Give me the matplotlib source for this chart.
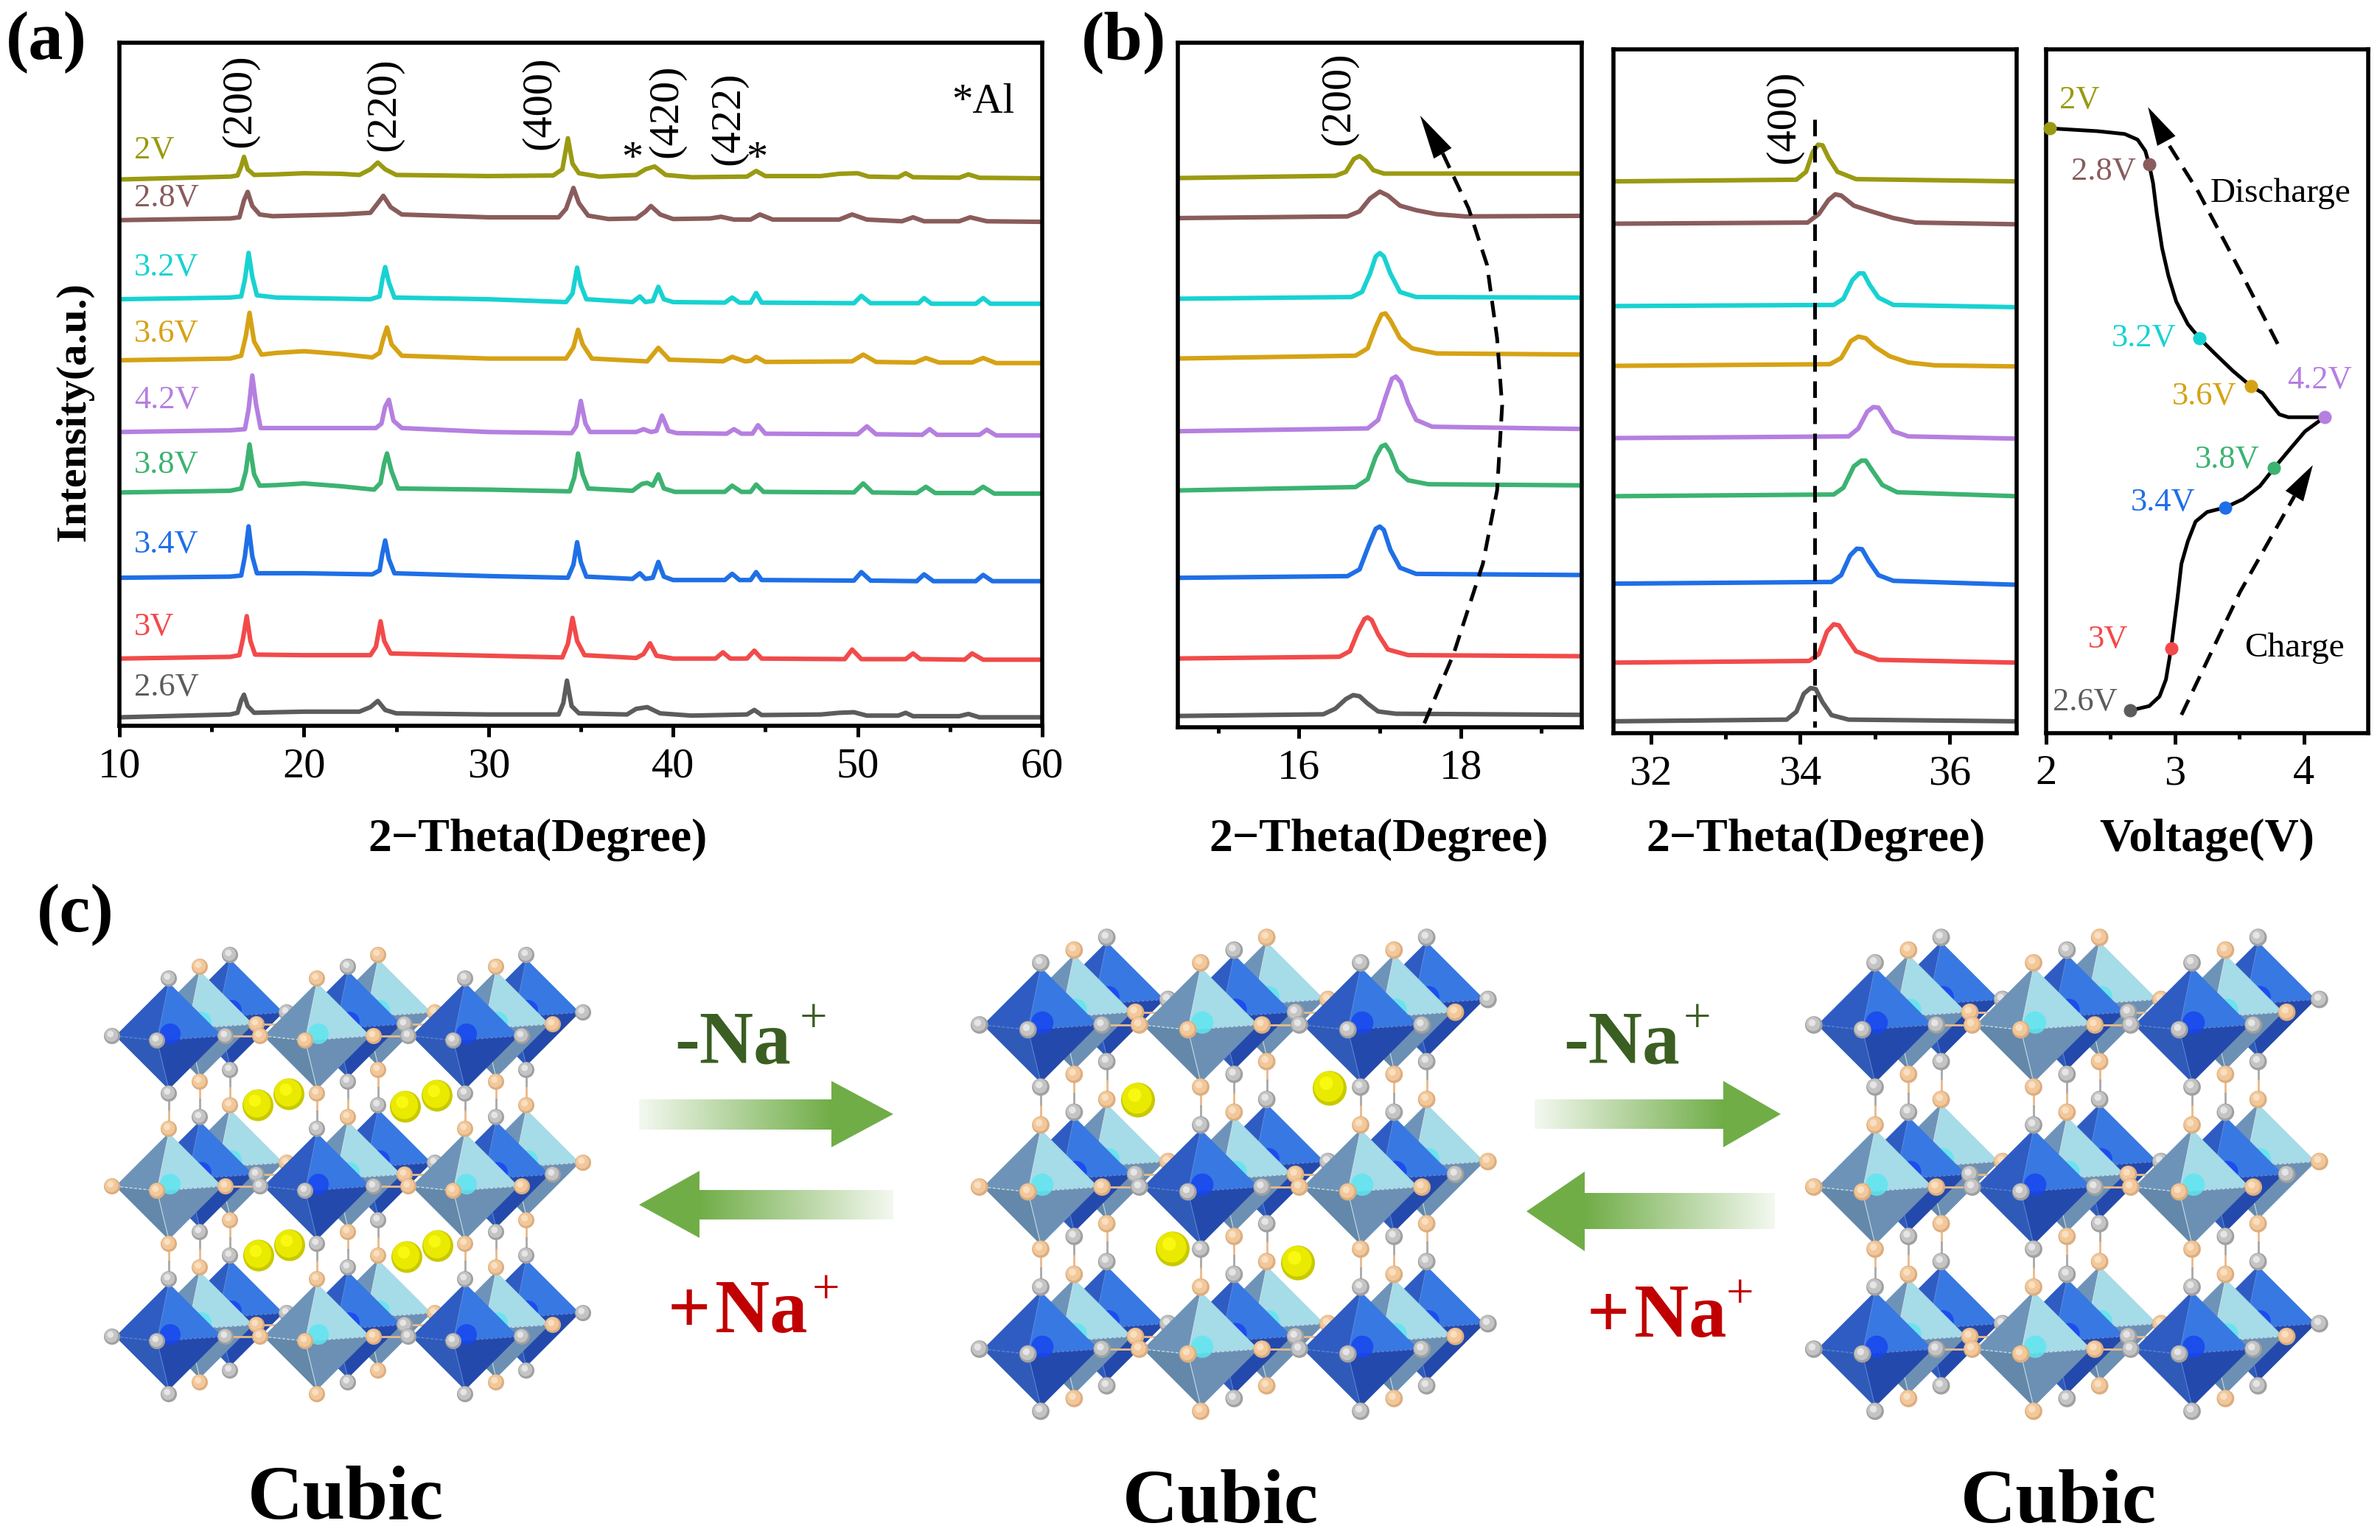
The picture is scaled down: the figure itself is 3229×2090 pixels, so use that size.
import numpy as np
import matplotlib
matplotlib.use("Agg")
import matplotlib.pyplot as plt
from matplotlib.patches import Polygon, Circle, Ellipse
from matplotlib.ticker import FixedLocator

plt.rcParams['font.family'] = ['Liberation Serif', 'DejaVu Serif']
W, H = 3230, 2090

NAMES = ['2V', '2.8V', '3.2V', '3.6V', '4.2V', '3.8V', '3.4V', '3V', '2.6V']
COLORS = ['#9a9a12', '#8a5c5c', '#18d2d2', '#d6a215', '#b57fe0', '#3cb371', '#1f6fe6', '#f24a4a', '#5c5c5c']

# Panel (a): (2-theta, intensity a.u.)
XRD_2V = [(10,967),(16,972),(16.4,974),(16.6,990),(16.75,1007),(16.95,985),(17.3,975),(18.5,976),(20,978),(22,977),(23,975),(23.6,985),(24.0,997),(24.4,985),(25,975),(30,973),(33.5,974),(34.0,985),(34.3,1040),(34.55,995),(34.9,978),(36,972),(38,975),(38.5,985),(39,990),(39.6,975),(41,971),(44,972),(44.5,982),(45,973),(48,973),(49,977),(50,978),(50.6,972),(52.2,971),(52.6,978),(53,971),(55.5,970),(56,976),(56.6,970),(60,969)]
XRD_28V = [(10,895),(16,898),(16.5,900),(16.75,930),(16.95,945),(17.2,920),(17.6,905),(18.3,902),(22,905),(23.6,908),(24.0,925),(24.3,938),(24.7,918),(25.3,905),(30,900),(33.8,900),(34.2,915),(34.6,952),(34.9,925),(35.4,903),(36.5,897),(38,898),(38.5,910),(38.8,920),(39.3,905),(40,897),(42,898),(42.6,901),(43.3,896),(44.2,896),(44.7,905),(45.4,896),(49,896),(49.7,905),(50.5,896),(52.4,893),(53,900),(53.6,893),(55.5,893),(56.1,900),(57,893),(60,892)]
XRD_32V = [(10,755),(16,758),(16.6,760),(16.8,790),(17,837),(17.2,795),(17.45,762),(18.5,758),(23.6,755),(24.1,760),(24.25,790),(24.4,812),(24.6,785),(24.9,758),(30,755),(34.2,750),(34.55,765),(34.8,811),(35,780),(35.3,755),(37.8,750),(38.2,760),(38.5,750),(38.9,752),(39.2,777),(39.5,755),(40,750),(42.8,749),(43.2,758),(43.6,749),(44.2,749),(44.5,766),(44.8,749),(49.8,748),(50.2,761),(50.7,748),(53.3,748),(53.6,757),(54,747),(56.4,747),(56.8,757),(57.2,747),(60,747)]
XRD_36V = [(10,647),(16,650),(16.6,655),(16.85,690),(17.05,731),(17.3,680),(17.7,657),(18.5,660),(20,663),(22,658),(23.7,652),(24.1,660),(24.3,685),(24.5,705),(24.75,675),(25.3,655),(30,650),(34.2,650),(34.6,670),(34.85,701),(35.1,675),(35.6,650),(38.6,645),(39.2,669),(39.8,648),(42.7,645),(43.2,653),(43.9,645),(44.2,646),(44.5,653),(45,644),(49.7,645),(50.3,657),(51,644),(53.1,643),(53.7,651),(54.4,643),(56.2,643),(56.8,651),(57.5,642),(60,642)]
XRD_42V = [(10,520),(16,523),(16.8,525),(17,560),(17.2,620),(17.4,570),(17.65,527),(19,527),(23.9,527),(24.2,535),(24.4,565),(24.6,577),(24.85,540),(25.3,527),(30,520),(34.5,518),(34.75,530),(35,575),(35.25,535),(35.5,520),(38,520),(38.4,525),(38.8,520),(39.1,522),(39.4,549),(39.75,522),(40.2,518),(42.9,517),(43.3,525),(43.7,517),(44.3,517),(44.6,532),(45,517),(50,516),(50.5,530),(51,516),(53.5,515),(53.9,525),(54.3,515),(56.6,515),(57,524),(57.5,514),(60,514)]
XRD_38V = [(10,413),(16,416),(16.6,420),(16.85,450),(17.05,498),(17.3,445),(17.6,425),(18.5,426),(20,429),(22,424),(23.8,418),(24.15,430),(24.35,465),(24.5,482),(24.75,450),(25.1,420),(30,418),(34.4,415),(34.65,440),(34.85,482),(35.1,445),(35.4,420),(37.8,416),(38.3,428),(38.6,430),(38.9,425),(39.2,445),(39.5,420),(40.1,414),(42.8,414),(43.2,425),(43.7,414),(44.2,414),(44.5,427),(44.9,414),(49.8,413),(50.3,429),(50.8,413),(53.2,412),(53.7,423),(54.2,412),(56.3,412),(56.8,423),(57.4,411),(60,411)]
XRD_34V = [(10,262),(16,264),(16.6,266),(16.8,300),(17,353),(17.2,300),(17.45,270),(20,270),(23.7,268),(24.1,275),(24.25,305),(24.4,328),(24.6,295),(24.9,270),(30,265),(34.3,262),(34.6,285),(34.8,325),(35,290),(35.3,264),(37.8,260),(38.2,270),(38.5,260),(38.9,262),(39.2,290),(39.5,264),(40,258),(42.8,258),(43.2,269),(43.6,258),(44.2,258),(44.5,272),(44.8,258),(49.8,257),(50.2,272),(50.7,257),(53.2,256),(53.6,268),(54.1,256),(56.4,256),(56.8,267),(57.3,256),(60,256)]
XRD_3V = [(10,119),(16,122),(16.5,125),(16.7,155),(16.9,194),(17.1,150),(17.35,126),(20,125),(23.6,125),(23.9,140),(24.15,185),(24.35,150),(24.7,128),(30,124),(34,121),(34.3,145),(34.55,191),(34.8,150),(35.2,125),(38,120),(38.4,127),(38.75,146),(39.1,124),(40,119),(42.3,119),(42.7,130),(43.1,119),(44,119),(44.4,133),(44.8,119),(49.3,118),(49.7,135),(50.2,118),(52.6,118),(53,128),(53.4,118),(55.8,117),(56.2,128),(56.8,117),(60,117)]
XRD_26V = [(10,15),(16,20),(16.4,23),(16.6,45),(16.75,55),(16.95,35),(17.3,23),(18.5,24),(20,25),(22,25),(23,25),(23.6,33),(24,44),(24.4,28),(25,22),(30,20),(33.8,20),(34.05,40),(34.25,80),(34.5,35),(34.9,22),(37.5,20),(38,30),(38.6,33),(39.3,22),(41,18),(44,20),(44.4,28),(44.8,19),(48,20),(49,23),(49.8,24),(50.5,18),(52.2,18),(52.6,23),(53,17),(55.5,17),(56,21),(56.6,15),(60,15)]
XRD_ALL = [XRD_2V, XRD_28V, XRD_32V, XRD_36V, XRD_42V, XRD_38V, XRD_34V, XRD_3V, XRD_26V]

# Panel (b) left: (200) region
P200_2V = [(14.5,974),(16.45,978),(16.58,985),(16.68,1008),(16.75,1013),(16.82,1006),(16.92,988),(17.05,982),(19.5,982)]
P200_28V = [(14.5,903),(16.6,906),(16.75,915),(16.88,938),(17,950),(17.1,943),(17.25,925),(17.45,917),(17.7,910),(18.05,906),(19.5,907)]
P200_32V = [(14.5,760),(16.65,763),(16.78,772),(16.88,805),(16.95,835),(17,841),(17.05,835),(17.13,805),(17.25,772),(17.45,763),(19.5,762)]
P200_36V = [(14.5,654),(16.7,659),(16.85,672),(16.95,710),(17.02,732),(17.07,734),(17.13,722),(17.25,690),(17.4,672),(17.7,663),(19.5,661)]
P200_42V = [(14.5,525),(16.85,530),(16.98,545),(17.07,585),(17.15,618),(17.2,622),(17.26,612),(17.35,575),(17.45,545),(17.65,533),(19.5,529)]
P200_38V = [(14.5,420),(16.7,426),(16.85,440),(16.95,480),(17.02,498),(17.07,501),(17.13,488),(17.22,455),(17.35,438),(17.6,431),(19.5,429)]
P200_34V = [(14.5,265),(16.6,268),(16.75,280),(16.87,325),(16.95,352),(17,356),(17.05,350),(17.13,315),(17.25,283),(17.45,272),(19.5,270)]
P200_3V = [(14.5,122),(16.5,125),(16.63,135),(16.73,170),(16.81,192),(16.85,195),(16.9,190),(16.98,165),(17.1,138),(17.35,128),(19.5,126)]
P200_26V = [(14.5,20),(16.3,23),(16.45,33),(16.58,50),(16.67,57),(16.75,55),(16.85,42),(16.98,28),(17.2,24),(19.5,22)]
P200_ALL = [P200_2V, P200_28V, P200_32V, P200_36V, P200_42V, P200_38V, P200_34V, P200_3V, P200_26V]

# Panel (b) middle: (400) region
P400_2V = [(31.5,978),(33.95,981),(34.08,995),(34.17,1030),(34.24,1043),(34.3,1042),(34.38,1020),(34.5,995),(34.75,982),(36.9,978)]
P400_28V = [(31.5,903),(34.1,905),(34.25,920),(34.38,945),(34.47,955),(34.55,953),(34.72,935),(34.95,925),(35.25,913),(35.55,905),(36.9,902)]
P400_32V = [(31.5,757),(34.45,759),(34.58,770),(34.7,803),(34.79,815),(34.85,815),(34.93,795),(35.05,772),(35.25,759),(36.9,755)]
P400_36V = [(31.5,651),(34.4,654),(34.55,665),(34.68,695),(34.78,703),(34.88,700),(35,685),(35.2,668),(35.45,657),(35.8,652),(36.9,650)]
P400_42V = [(31.5,523),(34.65,526),(34.78,540),(34.9,570),(34.98,578),(35.05,577),(35.13,560),(35.25,535),(35.45,526),(36.9,522)]
P400_38V = [(31.5,420),(34.45,423),(34.58,435),(34.72,473),(34.82,483),(34.88,483),(34.97,465),(35.1,440),(35.3,427),(36.9,420)]
P400_34V = [(31.5,265),(34.42,268),(34.55,280),(34.67,315),(34.76,327),(34.83,326),(34.92,305),(35.05,280),(35.25,270),(36.9,263)]
P400_3V = [(31.5,125),(34.12,128),(34.25,140),(34.36,180),(34.45,193),(34.52,191),(34.62,170),(34.75,145),(35.05,130),(36.9,125)]
P400_26V = [(31.5,21),(33.82,24),(33.95,38),(34.05,70),(34.14,80),(34.21,78),(34.3,55),(34.42,32),(34.65,24),(36.9,21)]
P400_ALL = [P400_2V, P400_28V, P400_32V, P400_36V, P400_42V, P400_38V, P400_34V, P400_3V, P400_26V]

# Panel (b) right: voltage curve
CURVE_V = [2.03,2.40,2.61,2.71,2.77,2.80,2.83,2.86,2.90,2.95,3.01,3.10,3.19,3.30,3.45,3.59,3.68,3.74,3.81,3.88,4.16,4.01,3.88,3.77,3.66,3.53,3.39,3.25,3.16,3.10,3.05,3.02,2.97,2.93,2.88,2.80,2.65]
CURVE_Y = [1072,1067,1062,1052,1032,1008,975,920,860,810,765,725,700,675,642,615,603,585,565,560,560,535,500,470,438,415,400,392,375,340,300,240,150,95,65,48,40]
DOT_V = [2.03,2.80,3.19,3.59,4.16,3.77,3.39,2.97,2.65]
DOT_Y = [1072,1008,700,615,560,470,400,150,40]

fig = plt.figure(figsize=(W/200, H/200), dpi=200, facecolor='white')

def axes_px(l, r, t, b):
    return fig.add_axes([l/W, 1-b/H, (r-l)/W, (b-t)/H])

def style(ax, xlim, ylim, major, minor):
    ax.set_xlim(*xlim); ax.set_ylim(*ylim)
    ax.set_yticks([])
    ax.xaxis.set_major_locator(FixedLocator(major))
    ax.xaxis.set_minor_locator(FixedLocator(minor))
    ax.tick_params(axis='x', which='major', length=5.5, width=1.8, labelsize=21, pad=5)
    ax.tick_params(axis='x', which='minor', length=3, width=1.8)
    for s in ax.spines.values():
        s.set_linewidth(2.0)

ax_a = axes_px(162, 1414, 58, 985)
style(ax_a, (10, 60), (0, 1209), [10,20,30,40,50,60], [15,25,35,45,55])
ax_b1 = axes_px(1598, 2146, 58, 987)
style(ax_b1, (14.5, 19.5), (0, 1214), [16,18], [15,17,19])
ax_b2 = axes_px(2189, 2736, 67, 995)
style(ax_b2, (31.5, 36.9), (0, 1212), [32,34,36], [33,35])
ax_b3 = axes_px(2776, 3213, 67, 995)
style(ax_b3, (2, 4.5), (0, 1212), [2,3,4], [2.5,3.5])

for ax, group in [(ax_a, XRD_ALL), (ax_b1, P200_ALL), (ax_b2, P400_ALL)]:
    for trace, c in zip(group, COLORS):
        xs, ys = zip(*trace)
        ax.plot(xs, ys, color=c, lw=2.2, solid_joinstyle='round')

ax_b3.plot(CURVE_V, CURVE_Y, color='black', lw=1.8, solid_joinstyle='round')
for v, y, c in zip(DOT_V, DOT_Y, COLORS):
    ax_b3.plot([v], [y], 'o', color=c, ms=6.5, mec='none', clip_on=False, zorder=5)

# overlay in pixel coordinates for annotations and the structure panel
ov = fig.add_axes([0, 0, 1, 1], facecolor='none')
ov.set_xlim(0, W); ov.set_ylim(H, 0); ov.axis('off')

def Z1(X, Y): return X/1.045, Y/1.307
def Z2(X, Y): return 1450+X/0.881, Y/1.307

def txt(p, s, size=16, color='black', weight='normal', rot=0, ha='center', va='center'):
    ov.text(p[0], p[1], s, fontsize=size, color=color, fontweight=weight, rotation=rot, ha=ha, va=va)

# panel letters
txt((8, 80), '(a)', 34, weight='bold', ha='left', va='baseline')
txt((1467, 80), '(b)', 34, weight='bold', ha='left', va='baseline')
txt((50, 1264), '(c)', 34, weight='bold', ha='left', va='baseline')

# axis titles
txt(Z1(105, 730), 'Intensity(a.u.)', 21, weight='bold', rot=90)
txt((730, 1140), '2\u2212Theta(Degree)', 23, weight='bold')
txt((1871, 1140), '2\u2212Theta(Degree)', 23, weight='bold')
txt((2464, 1140), '2\u2212Theta(Degree)', 23, weight='bold')
txt((2994, 1140), 'Voltage(V)', 23, weight='bold')

# panel (a) labels
LAB_A_Y = [267, 352, 475, 592, 710, 825, 966, 1112, 1220]
for n, c, y in zip(NAMES, COLORS, LAB_A_Y):
    txt(Z1(190, y), n, 16, color=c, ha='left')
for s, X, Y in [('(200)',340,178),('(220)',545,185),('(400)',765,182),('(420)',945,197),('(422)',1033,210)]:
    txt(Z1(X, Y), s, 21, rot=90)
txt(Z1(896, 283), '*', 21)
txt(Z1(1073, 283), '*', 21)
txt(Z1(1394, 182), '*Al', 20.5)

# panel (b) labels
txt(Z2(323, 175), '(200)', 21, rot=90)
txt(Z2(855, 208), '(400)', 21, rot=90)
LAB_B = [(1208,178),(1237,305),(1285,600),(1357,703),(1495,675),(1385,815),(1308,892),(1242,1135),(1215,1245)]
for n, c, (X, Y) in zip(NAMES, COLORS, LAB_B):
    txt(Z2(X, Y), n, 16, color=c)
txt(Z2(1448, 343), 'Discharge', 17)
txt(Z2(1465, 1150), 'Charge', 17)

def dashed_arrow(pts, tip, hw=14):
    P = np.array([Z2(*p) for p in pts])
    ov.plot(P[:,0], P[:,1], color='black', lw=1.8, dashes=(4.5, 2.6), dash_capstyle='butt')
    t = np.array(Z2(*tip)); b = P[-1]
    d = t-b; d = d/np.linalg.norm(d); n = np.array([-d[1], d[0]])
    ov.add_patch(Polygon([t, b+n*hw, b+n*-hw], closed=True, fc='black', ec='none', zorder=3))

dashed_arrow([(425,1283),(460,1160),(495,1000),(512,870),(518,720),(512,600),(500,470),(478,370),(447,272)], (420,205))
dashed_arrow([(1445,610),(1400,480),(1350,340),(1312,250)], (1290,190))
dashed_arrow([(1330,1268),(1400,1050),(1465,880)], (1487,825))
P = np.array([Z2(892,212), Z2(892,1290)])
ov.plot(P[:,0], P[:,1], color='black', lw=1.8, dashes=(4.5, 2.6))

# ------- panel (c) -------
DARK = dict(ul='#2f5cc2', ur='#3878e2', ll='#2f5ab8', lr='#2449ac', core='#1746f0', edge='#5b86d8')
LIGHT = dict(ul='#6d94b8', ur='#a6dbe8', ll='#6488aa', lr='#6c90b4', core='#5fe6f0', edge='#c6dbe6')
GREY = ('#a0a0a0', '#c4c4c4', '#eeeeee')
TAN = ('#dcae80', '#f2c89a', '#fbe6cc')

def atom(x, y, pal, r=11):
    ov.add_patch(Circle((x, y), r, fc=pal[0], ec='none'))
    ov.add_patch(Circle((x-0.08*r, y-0.1*r), 0.82*r, fc=pal[1], ec='none'))
    ov.add_patch(Circle((x-0.2*r, y-0.25*r), 0.4*r, fc=pal[2], ec='none', alpha=0.8))

def octa(cx, cy, kind, s):
    pal = DARK if kind == 0 else LIGHT
    ap = GREY if kind == 0 else TAN
    w, h = 72*s, 72*s
    T, B = (cx, cy-h), (cx, cy+h)
    L, R = (cx-w, cy), (cx+w, cy)
    F = (cx-16*s, cy+6*s)
    for a, b, c, col in [(T,L,F,pal['ul']), (T,F,R,pal['ur']), (L,F,B,pal['ll']), (F,R,B,pal['lr'])]:
        ov.add_patch(Polygon([a,b,c], closed=True, fc=col, ec=col, lw=0.3))
    ov.plot([L[0],F[0],R[0]], [L[1],F[1],R[1]], color=pal['edge'], lw=0.5, dashes=(3,1.5), zorder=1)
    ov.plot([T[0],F[0],B[0]], [T[1],F[1],B[1]], color=pal['edge'], lw=0.4, zorder=1)
    ov.add_patch(Circle((cx+2*s, cy-3*s), 14*s, fc=pal['core'], ec='none', alpha=0.85))
    for ax_, ay in [(0,-78),(0,78),(-77,0),(77,0),(-16,6)]:
        atom(cx+ax_*s, cy+ay*s, ap, 11*s)

DEPTH_OFFSET = [(83,-32), (42,-16), (0,0)]
def structure(x0, y0, dx, dy, s):
    for (ox, oy), depth in zip(DEPTH_OFFSET, [2,1,0]):
        for col in range(3):
            for row in range(2):
                kind = (row+col+depth) % 2
                x = x0+col*dx+ox*s
                y1 = y0+row*dy+oy*s+78*s
                y2 = y0+(row+1)*dy+oy*s-78*s
                m = (y1+y2)/2
                ov.plot([x,x],[y1,m], color='#a8a8a8' if kind==0 else '#e8b98a', lw=1.0, zorder=1)
                ov.plot([x,x],[m,y2], color='#e8b98a' if kind==0 else '#a8a8a8', lw=1.0, zorder=1)
    for (ox, oy), depth in zip(DEPTH_OFFSET, [2,1,0]):
        for row in range(3):
            for col in range(3):
                cx = x0+col*dx+ox*s
                cy = y0+row*dy+oy*s
                if col < 2:
                    ov.plot([cx+77*s, cx+dx-77*s],[cy,cy], color='#e8b98a', lw=1.0, zorder=1)
                octa(cx, cy, (row+col+depth) % 2, s)

def sodium(x, y, r):
    ov.add_patch(Ellipse((x, y), 2*r, 2.05*r, fc='#c9c900', ec='none'))
    ov.add_patch(Ellipse((x-0.06*r, y-0.1*r), 1.75*r, 1.8*r, fc='#eaea00', ec='none'))
    ov.add_patch(Ellipse((x-0.2*r, y-0.3*r), 0.8*r, 0.8*r, fc='#f8f810', ec='none'))

STRUCT = [(229, 1406, 201, 204, 1.0), (1412, 1391, 217, 220, 1.08), (2544, 1391, 215, 220, 1.08)]
NA_S1 = [(350,1500),(392,1485),(550,1502),(593,1487),(351,1704),(393,1690),(552,1706),(594,1691)]
NA_S2 = [(1544,1493),(1804,1477),(1591,1695),(1761,1714)]
for x0, y0, dx, dy, s in STRUCT:
    structure(x0, y0, dx, dy, s)
for x, y in NA_S1: sodium(x, y, 21)
for x, y in NA_S2: sodium(x, y, 23)

GREEN = '#70ad47'
rgb = matplotlib.colors.to_rgb(GREEN)
def grad_arrow(tail, base, tip, ys, yh, ytip, right=True):
    n = 256
    alpha = np.linspace(0.08, 1, n) if right else np.linspace(1, 0.08, n)
    img = np.zeros((1, n, 4)); img[...,0], img[...,1], img[...,2] = rgb; img[...,3] = alpha
    x0, x1 = (tail, base) if right else (base, tail)
    ov.imshow(img, extent=(x0, x1, ys[1], ys[0]), aspect='auto', interpolation='bilinear', zorder=2)
    ov.add_patch(Polygon([(base,yh[0]),(base,yh[1]),(tip,ytip)], closed=True, fc=GREEN, ec='none', zorder=2))

grad_arrow(867, 1128, 1212, (1492,1533), (1467,1557), 1512, True)
grad_arrow(1212, 949, 867, (1615,1655), (1589,1680), 1635, False)
grad_arrow(2082, 2338, 2416, (1492,1532), (1467,1557), 1512, True)
grad_arrow(2408, 2150, 2071, (1619,1668), (1590,1698), 1644, False)
ov.set_xlim(0, W); ov.set_ylim(H, 0)

DG, RD = '#3b5e22', '#c00000'
txt((915, 1442), '-Na', 36.5, color=DG, weight='bold', ha='left', va='baseline')
txt((1103, 1384), '+', 24, color=DG)
txt((906, 1808), '+', 37, color=RD, weight='bold', ha='left', va='baseline')
txt((970, 1808), 'Na', 37, color=RD, weight='bold', ha='left', va='baseline')
txt((1120, 1753), '+', 24, color=RD)
txt((2121, 1442), '-Na', 36.5, color=DG, weight='bold', ha='left', va='baseline')
txt((2302, 1384), '+', 24, color=DG)
txt((2153, 1814), '+', 37, color=RD, weight='bold', ha='left', va='baseline')
txt((2217, 1814), 'Na', 37, color=RD, weight='bold', ha='left', va='baseline')
txt((2360, 1758), '+', 24, color=RD)

for x, b in [(469, 2061), (1656, 2066), (2793, 2066)]:
    txt((x, b), 'Cubic', 37.5, weight='bold', va='baseline')

fig.savefig('out.png', dpi=200, facecolor='white')
